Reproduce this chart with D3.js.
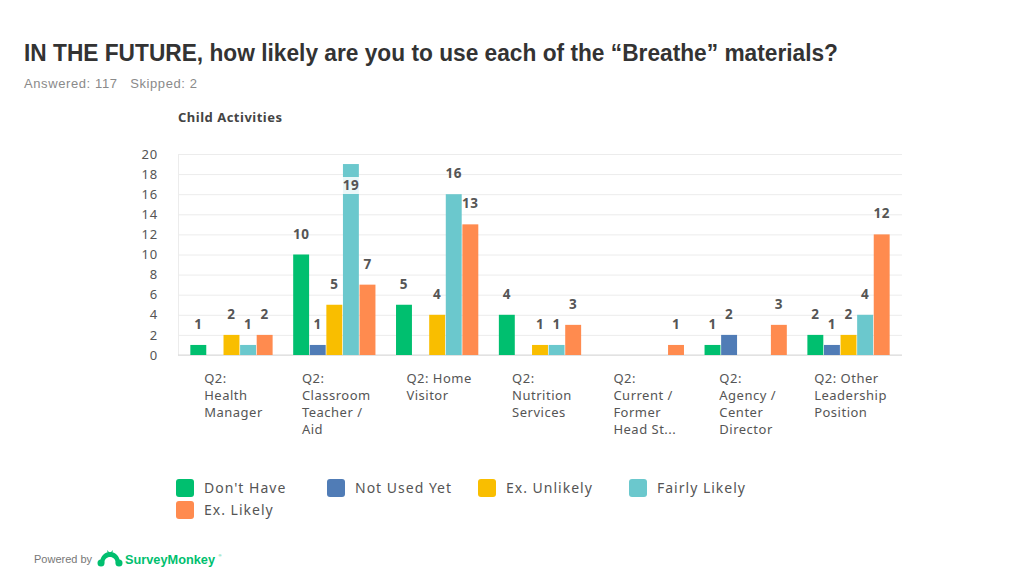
<!DOCTYPE html>
<html><head><meta charset="utf-8">
<script src="https://cdn.jsdelivr.net/npm/d3@7"></script>
<style>
body{margin:0;background:#fff;}
svg{display:block;}
</style></head>
<body>
<svg id="c" width="1024" height="576"></svg>
<script>
const categories = [
  ["Q2:", "Health", "Manager"],
  ["Q2:", "Classroom", "Teacher /", "Aid"],
  ["Q2: Home", "Visitor"],
  ["Q2:", "Nutrition", "Services"],
  ["Q2:", "Current /", "Former", "Head St..."],
  ["Q2:", "Agency /", "Center", "Director"],
  ["Q2: Other", "Leadership", "Position"]
];
const seriesNames = ["Don't Have", "Not Used Yet", "Ex. Unlikely", "Fairly Likely", "Ex. Likely"];
const seriesColors = ["#00bf6f", "#507cb6", "#f9be00", "#6bc8cd", "#ff8b4f"];
const dontHave     = [1, 10, 5, 4, 0, 1, 2];
const notUsedYet   = [0, 1, 0, 0, 0, 2, 1];
const exUnlikely   = [2, 5, 4, 1, 0, 0, 2];
const fairlyLikely = [1, 19, 16, 1, 0, 0, 4];
const exLikely     = [2, 7, 13, 3, 1, 3, 12];
const yTicks = [0, 2, 4, 6, 8, 10, 12, 14, 16, 18, 20];

(function(){
const series = [dontHave, notUsedYet, exUnlikely, fairlyLikely, exLikely];
const svg = d3.select("#c");

svg.append("text").attr("x", 24).attr("y", 61)
  .attr("font-family", "Liberation Sans, Arial, sans-serif").attr("font-weight", "bold")
  .attr("font-size", 23).attr("fill", "#333")
  .attr("textLength", 814).attr("lengthAdjust", "spacingAndGlyphs")
  .text("IN THE FUTURE, how likely are you to use each of the \u201cBreathe\u201d materials?");
svg.append("text").attr("x", 24).attr("y", 88)
  .attr("font-family", "Liberation Sans, Arial, sans-serif")
  .attr("font-size", 13).attr("fill", "#8a8a8a").attr("xml:space", "preserve")
  .attr("textLength", 173).attr("lengthAdjust", "spacing")
  .text("Answered: 117   Skipped: 2");

svg.append("text").attr("x", 178).attr("y", 122)
  .attr("font-family", "Noto Sans, sans-serif").attr("font-weight", "bold")
  .attr("font-size", 13).attr("fill", "#444").attr("letter-spacing", 0.5).text("Child Activities");

const pLeft = 178, pRight = 902, pTop = 154, pBottom = 355;
const idx = d3.range(categories.length);
const x0 = d3.scaleBand().domain(idx).range([pLeft, pRight]).paddingInner(0.2).paddingOuter(0.12);
const x1 = d3.scaleBand().domain(d3.range(series.length)).range([0, x0.bandwidth()]).paddingInner(0.04);
const y = d3.scaleLinear().domain([0, 20]).range([pBottom, pTop]);

const yAxis = d3.axisLeft(y).tickValues(yTicks).tickSize(-(pRight - pLeft)).tickPadding(20);
const gy = svg.append("g").attr("transform", `translate(${pLeft},0)`).call(yAxis);
gy.select(".domain").attr("stroke", "#ececec");
gy.selectAll(".tick line").attr("stroke", "#ececec");
gy.selectAll(".tick text").attr("font-family", "Noto Sans, sans-serif").attr("font-size", 13)
  .attr("letter-spacing", 0.8).attr("fill", "#555");
svg.append("line").attr("x1", pLeft).attr("x2", pRight).attr("y1", pBottom).attr("y2", pBottom)
  .attr("stroke", "#d8d8d8");

const bars = [];
series.forEach((vals, s) => vals.forEach((v, i) => bars.push({s, i, v})));
svg.append("g").selectAll("rect").data(bars.filter(d => d.v > 0)).join("rect")
  .attr("x", d => x0(d.i) + x1(d.s))
  .attr("width", x1.bandwidth())
  .attr("y", d => y(d.v))
  .attr("height", d => pBottom - y(d.v))
  .attr("fill", d => seriesColors[d.s]);

const lbl = svg.append("g");
bars.filter(d => d.v > 0).forEach(d => {
  const cx = x0(d.i) + x1(d.s) + x1.bandwidth() / 2;
  let ly = y(d.v) - 16;
  let inside = false;
  if (ly - 8 < pTop) { ly = y(d.v) + 26; inside = true; }
  if (inside) {
    lbl.append("rect").attr("x", cx - 11).attr("y", ly - 13).attr("width", 22).attr("height", 17)
      .attr("fill", "#fff").attr("opacity", 0.85).attr("rx", 2);
  }
  lbl.append("text").attr("x", cx).attr("y", ly).attr("text-anchor", "middle")
    .attr("font-family", "Noto Sans, sans-serif").attr("font-weight", "bold")
    .attr("font-size", 13.5).attr("fill", "#555").attr("letter-spacing", 0.5).text(d.v);
});

const cg = svg.append("g");
categories.forEach((lines, i) => {
  const t = cg.append("text").attr("font-family", "Noto Sans, sans-serif")
    .attr("font-size", 13).attr("fill", "#555").attr("letter-spacing", 0.5);
  lines.forEach((ln, k) => t.append("tspan").attr("y", 383 + k * 17).text(ln));
  let maxW = 0;
  t.selectAll("tspan").each(function(){ maxW = Math.max(maxW, this.getComputedTextLength()); });
  const sx = x0(i) + x0.bandwidth() / 2 - maxW / 2 + 2;
  t.selectAll("tspan").attr("x", sx);
});

const lg = svg.append("g");
seriesNames.forEach((n, k) => {
  const col = k % 4, row = Math.floor(k / 4);
  const lx = 176 + col * 151, ly = 479 + row * 22;
  lg.append("rect").attr("x", lx).attr("y", ly).attr("width", 18).attr("height", 18).attr("rx", 3)
    .attr("fill", seriesColors[k]);
  lg.append("text").attr("x", lx + 28).attr("y", ly + 14)
    .attr("font-family", "Noto Sans, sans-serif").attr("font-size", 14).attr("fill", "#555")
    .attr("letter-spacing", 1).text(n);
});

svg.append("text").attr("x", 34).attr("y", 563)
  .attr("font-family", "Liberation Sans, Arial, sans-serif").attr("font-size", 11).attr("fill", "#777")
  .text("Powered by");
const logo = svg.append("g").attr("transform", "translate(98,549)").attr("fill", "#00bf6f");
logo.append("path").attr("d", "M2 14 C2 6 8 3 12 3 C16 3 22 6 22 14 L18 16 C18 10 15 8 12 8 C9 8 6 10 6 16 Z");
logo.append("circle").attr("cx", 3).attr("cy", 14).attr("r", 3.5);
logo.append("circle").attr("cx", 21).attr("cy", 14).attr("r", 3.5);
logo.append("path").attr("d", "M9 1 L12 4 L15 1 L14 5 L10 5 Z");
svg.append("text").attr("x", 125).attr("y", 564)
  .attr("font-family", "Liberation Sans, Arial, sans-serif").attr("font-weight", "bold")
  .attr("font-size", 13.5).attr("fill", "#00bf6f").attr("textLength", 90).attr("lengthAdjust", "spacingAndGlyphs")
  .text("SurveyMonkey");
svg.append("text").attr("x", 218.5).attr("y", 557)
  .attr("font-family", "Liberation Sans, Arial, sans-serif").attr("font-size", 4).attr("fill", "#00bf6f")
  .text("\u00ae");
})();
</script>
</body></html>
